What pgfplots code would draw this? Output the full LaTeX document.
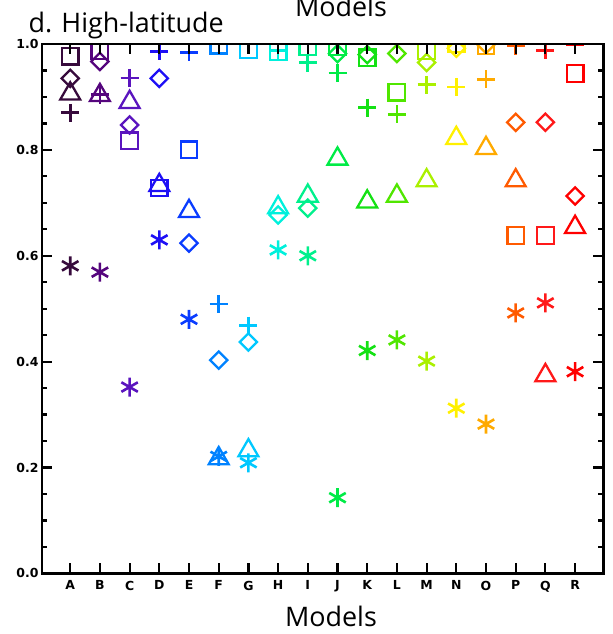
\documentclass[border=0pt]{standalone}
\usepackage{fontspec}
\setmainfont{Open Sans}
\newfontfamily\tickfont{DejaVu Sans}
\usepackage{pgfplots}
\usepackage{pgfplotstable}
\pgfplotsset{compat=1.18}

% model colours, A..R
\definecolor{c0}{RGB}{55,10,60}
\definecolor{c1}{RGB}{85,5,125}
\definecolor{c2}{RGB}{90,20,190}
\definecolor{c3}{RGB}{30,15,245}
\definecolor{c4}{RGB}{10,60,255}
\definecolor{c5}{RGB}{0,130,255}
\definecolor{c6}{RGB}{0,200,255}
\definecolor{c7}{RGB}{0,240,220}
\definecolor{c8}{RGB}{0,240,140}
\definecolor{c9}{RGB}{0,235,70}
\definecolor{c10}{RGB}{20,225,20}
\definecolor{c11}{RGB}{80,230,0}
\definecolor{c12}{RGB}{170,240,0}
\definecolor{c13}{RGB}{255,240,0}
\definecolor{c14}{RGB}{255,170,0}
\definecolor{c15}{RGB}{255,90,0}
\definecolor{c16}{RGB}{255,25,25}
\definecolor{c17}{RGB}{255,0,0}

% one row per model (A..R = 0..17); columns are the five statistics
\pgfplotstableread{
x  sq    di    tri   pl    ast
0  0.977 0.935 0.906 0.870 0.581
1  0.987 0.967 0.903 0.904 0.569
2  0.817 0.847 0.890 0.936 0.352
3  0.728 0.935 0.733 0.986 0.630
4  0.800 0.624 0.684 0.984 0.480
5  0.998 0.403 0.217 0.509 0.221
6  0.989 0.437 0.232 0.468 0.209
7  0.985 0.677 0.691 0.988 0.611
8  0.995 0.690 0.713 0.965 0.600
9  0.995 0.982 0.783 0.945 0.143
10 0.974 0.980 0.702 0.880 0.421
11 0.909 0.982 0.713 0.867 0.441
12 0.987 0.965 0.742 0.923 0.401
13 1.000 0.992 0.822 0.919 0.312
14 0.997 0.999 0.803 0.933 0.282
15 0.638 0.852 0.742 0.997 0.492
16 0.638 0.852 0.374 0.988 0.511
17 0.944 0.713 0.654 0.999 0.381
}\modeldata

\pgfplotsset{
  bymodel/.style={
    scatter, only marks, point meta=explicit symbolic,
    scatter/classes={
      0={draw=c0}, 1={draw=c1}, 2={draw=c2}, 3={draw=c3}, 4={draw=c4},
      5={draw=c5}, 6={draw=c6}, 7={draw=c7}, 8={draw=c8}, 9={draw=c9},
      10={draw=c10}, 11={draw=c11}, 12={draw=c12}, 13={draw=c13},
      14={draw=c14}, 15={draw=c15}, 16={draw=c16}, 17={draw=c17}},
  },
}

\begin{document}
\begin{tikzpicture}
\useasboundingbox (-42bp,-60.6bp) rectangle (571bp,573.4bp);
\begin{axis}[
  at={(0,0)}, anchor=south west,
  scale only axis, width=561.3bp, height=529.4bp,
  xmin=-0.95, xmax=17.95, ymin=0, ymax=1,
  xtick={0,...,17},
  xticklabels={A,B,C,D,E,F,G,H,I,J,K,L,M,N,O,P,Q,R},
  ytick={0,0.2,0.4,0.6,0.8,1},
  yticklabels={0.0,0.2,0.4,0.6,0.8,1.0},
  minor y tick num=3,
  tick align=inside,
  major tick length=10bp, minor tick length=5bp,
  axis line style={line width=2.6bp},
  every tick/.style={black, line width=2.2bp},
  tick label style={font=\tickfont\bfseries\fontsize{12.5}{13}\selectfont},
  xticklabel style={yshift=-4bp},
  yticklabel style={xshift=0bp},
  /pgf/number format/assume math mode=true,
  axis on top,
  clip marker paths=true,
]
\addplot[bymodel, mark=square, mark size=8.3bp, line width=2.3bp]
  table[x=x, y=sq, meta=x] {\modeldata};
\addplot[bymodel, mark=square, mark size=6.1bp, line width=2.3bp,
  mark options={rotate=45}]
  table[x=x, y=di, meta=x] {\modeldata};
\addplot[bymodel, mark=triangle, mark size=11.5bp, line width=2.3bp]
  table[x=x, y=tri, meta=x] {\modeldata};
\addplot[bymodel, mark=+, mark size=9bp, line width=2.7bp]
  table[x=x, y=pl, meta=x] {\modeldata};
\addplot[bymodel, mark=asterisk, mark size=9.5bp, line width=2.6bp]
  table[x=x, y=ast, meta=x] {\modeldata};
\end{axis}
\node[anchor=base west, font=\fontsize{27}{30}\selectfont] at (-17bp,540.4bp) {d. High-latitude};
\node[anchor=base, font=\fontsize{27}{30}\selectfont] at (299bp,556.4bp) {Models};
\node[anchor=base, font=\fontsize{27}{30}\selectfont] at (289bp,-53bp) {Models};
\end{tikzpicture}
\end{document}
